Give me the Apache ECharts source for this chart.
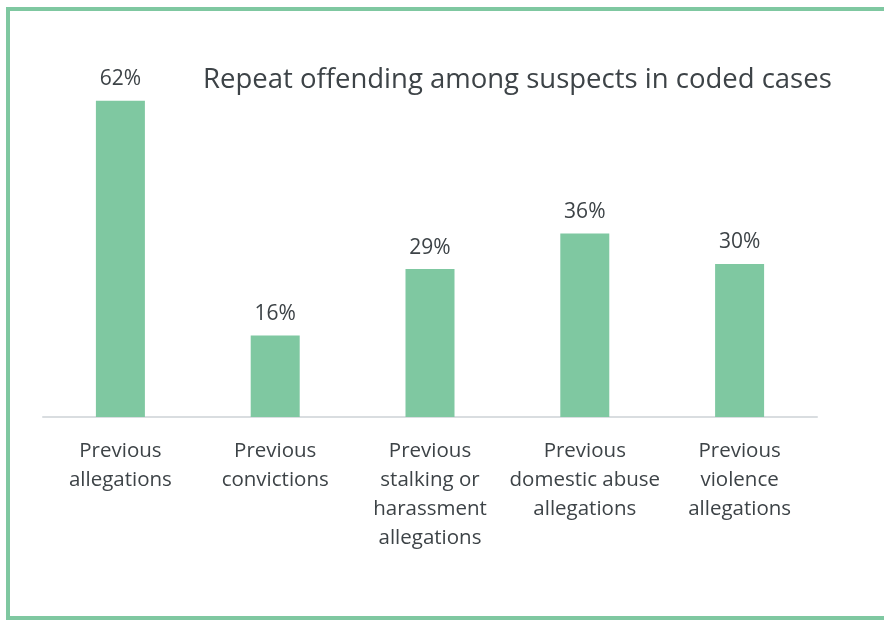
<!DOCTYPE html>
<html>
<head>
<meta charset="utf-8">
<script src="https://cdn.jsdelivr.net/npm/echarts@6/dist/echarts.min.js"></script>
<style>
  html, body { margin: 0; padding: 0; background: #ffffff; }
  #chart { width: 884px; height: 621px; }
</style>
</head>
<body>
<div id="chart"></div>
<script>
// Categories (multi-line axis labels) and percentages
const categories = [
  'Previous\nallegations',
  'Previous\nconvictions',
  'Previous\nstalking or\nharassment\nallegations',
  'Previous\ndomestic abuse\nallegations',
  'Previous\nviolence\nallegations'
];
const values = [62, 16, 29, 36, 30];
const chartTitle = 'Repeat offending among suspects in coded cases';

const green = '#7fc8a1';
const textColor = '#3d4347';
const fontFamily = '"Open Sans", "Noto Sans", sans-serif';

const chart = echarts.init(document.getElementById('chart'));
chart.setOption({
  animation: false,
  backgroundColor: '#ffffff',
  title: {
    text: chartTitle,
    left: 198,
    top: 61,
    textStyle: { fontFamily, fontSize: 27.5, fontWeight: 'normal', color: textColor }
  },
  graphic: [{
    type: 'rect',
    shape: { x: 8, y: 9, width: 1000, height: 609 },
    style: { fill: 'none', stroke: green, lineWidth: 4 },
    z: 100
  }],
  grid: { left: 43, right: 67, top: 60, height: 357, containLabel: false },
  xAxis: {
    type: 'category',
    data: categories,
    axisTick: { show: false },
    axisLine: { lineStyle: { color: '#d9dde0', width: 2 } },
    axisLabel: {
      interval: 0,
      margin: 20,
      fontFamily, fontSize: 20.5, lineHeight: 29, color: textColor
    }
  },
  yAxis: {
    type: 'value',
    min: 0, max: 70, interval: 10,
    show: false
  },
  series: [{
    type: 'bar',
    data: values,
    barWidth: 49,
    itemStyle: { color: green },
    label: {
      show: true,
      position: 'top',
      distance: 11,
      formatter: '{c}%',
      fontFamily, fontSize: 21, color: textColor
    }
  }]
});
</script>
</body>
</html>
